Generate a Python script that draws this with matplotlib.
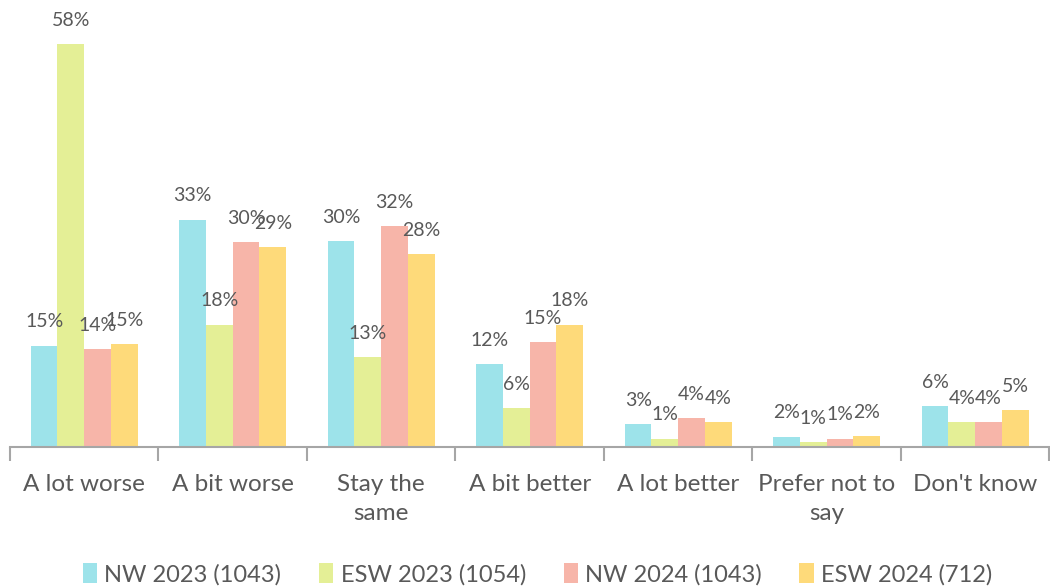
import numpy as np
import matplotlib.pyplot as plt
from matplotlib.ticker import FixedLocator

plt.rcParams['font.family'] = ['Lato', 'DejaVu Sans']

categories = ["A lot worse", "A bit worse", "Stay the\nsame", "A bit better",
              "A lot better", "Prefer not to\nsay", "Don't know"]
series = ["NW 2023 (1043)", "ESW 2023 (1054)", "NW 2024 (1043)", "ESW 2024 (712)"]
nw_2023 = [14.6, 32.7, 29.6, 11.9, 3.3, 1.5, 5.9]
esw_2023 = [58.0, 17.6, 12.9, 5.6, 1.2, 0.7, 3.6]
nw_2024 = [14.1, 29.5, 31.8, 15.1, 4.2, 1.2, 3.6]
esw_2024 = [14.8, 28.8, 27.8, 17.6, 3.6, 1.6, 5.3]
colors = ["#9DE3EA", "#E4EF96", "#F7B5A9", "#FEDA7A"]

values = [nw_2023, esw_2023, nw_2024, esw_2024]

fig = plt.figure(figsize=(10.5, 5.86), dpi=100)
ax = fig.add_axes([0.0095, 0.237, 0.99, 0.763])

x = np.arange(len(categories))
w = 0.18
for i, (vals, name, c) in enumerate(zip(values, series, colors)):
    pos = x + (i - 1.5) * w
    ax.bar(pos, vals, width=w, color=c, label=name)
    for p, v in zip(pos, vals):
        ax.annotate(f"{v:.0f}%", (p, v), xytext=(0, 11), textcoords="offset points",
                    ha="center", va="bottom", fontsize=14, color="#595959")

ax.set_xlim(-0.5, len(categories) - 0.5)
ax.set_ylim(0, 64.3)
ax.set_yticks([])
for s in ["top", "right", "left"]:
    ax.spines[s].set_visible(False)
ax.spines["bottom"].set_color("#A6A6A6")
ax.spines["bottom"].set_linewidth(1.5)

ax.set_xticks(x)
ax.set_xticklabels(categories, fontsize=17.5, color="#595959", linespacing=1.5)
ax.tick_params(axis="x", which="major", length=0, pad=19)
ax.xaxis.set_minor_locator(FixedLocator(np.arange(-0.5, len(categories), 1.0)))
ax.tick_params(axis="x", which="minor", length=10, width=1.5, color="#A6A6A6")

fig.legend(loc="lower center", bbox_to_anchor=(0.512, -0.035), ncol=4, frameon=False,
           fontsize=17, handlelength=0.6, handleheight=0.9, handletextpad=0.3,
           columnspacing=1.6, labelcolor="#595959")

fig.savefig("out.png", dpi=100)
